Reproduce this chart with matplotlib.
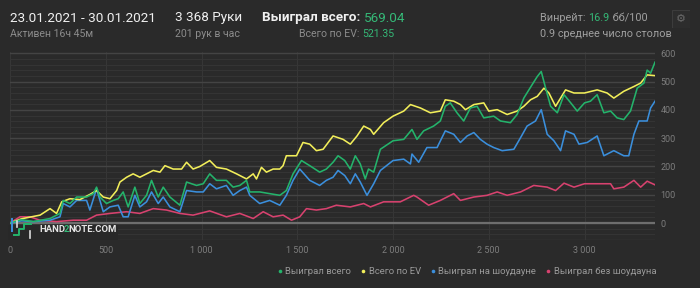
import matplotlib
matplotlib.use("Agg")
import matplotlib.pyplot as plt
from matplotlib.lines import Line2D
from matplotlib.patches import Rectangle
from matplotlib.ticker import MultipleLocator

plt.rcParams['font.family'] = ['Roboto', 'DejaVu Sans']

# ---------------- data ----------------
total_hands = [0, 60, 122, 209, 261, 278, 313, 348, 400, 435, 452, 470, 504, 539, 565, 591, 617, 652,
               678, 713, 739, 774, 800, 835, 887, 922, 974, 1009, 1043, 1078, 1130, 1165, 1200, 1235,
               1252, 1304, 1356, 1409, 1443, 1478, 1522, 1565, 1617, 1652, 1687, 1713, 1748, 1777,
               1803, 1829, 1855, 1872, 1899, 1934, 2000, 2056, 2099, 2125, 2160, 2212, 2247, 2273,
               2299, 2334, 2369, 2404, 2439, 2474, 2526, 2561, 2613, 2648, 2683, 2726, 2753, 2774,
               2797, 2823, 2858, 2893, 2928, 2962, 3000, 3031, 3066, 3101, 3136, 3170, 3205, 3240,
               3275, 3310, 3327, 3345, 3368]
total_won = [0, 12, 5, 16, 34, 80, 69, 92, 92, 104, 127, 92, 69, 80, 86, 110, 57, 127,
             69, 98, 151, 92, 127, 92, 63, 145, 133, 139, 174, 151, 151, 127, 133, 151,
             110, 110, 104, 98, 115, 174, 221, 203, 180, 191, 215, 238, 221, 191,
             238, 209, 156, 191, 180, 261, 291, 296, 331, 296, 326, 343, 361, 413,
             425, 390, 361, 407, 413, 372, 378, 361, 355, 384, 442, 489, 518, 536,
             477, 413, 390, 454, 425, 396, 425, 431, 454, 390, 396, 372, 366, 396,
             477, 495, 541, 530, 569.04]

ev_hands = [0, 60, 157, 209, 243, 270, 313, 365, 417, 452, 487, 522, 557, 574, 609, 643, 678, 713,
            748, 783, 809, 852, 896, 922, 956, 991, 1043, 1078, 1130, 1183, 1235, 1270, 1287, 1313,
            1339, 1374, 1409, 1426, 1443, 1496, 1530, 1565, 1600, 1635, 1687, 1739, 1777, 1812,
            1847, 1882, 1899, 1951, 2000, 2056, 2091, 2143, 2195, 2247, 2273, 2317, 2352, 2378,
            2422, 2474, 2500, 2544, 2596, 2648, 2683, 2718, 2753, 2788, 2814, 2849, 2875, 2901,
            2945, 3000, 3066, 3118, 3153, 3205, 3258, 3293, 3327, 3368]
ev_won = [0, 15, 28, 51, 34, 75, 86, 83, 101, 115, 92, 86, 115, 145, 162, 174, 162, 174,
          186, 180, 203, 191, 191, 215, 191, 200, 221, 197, 191, 174, 156, 174, 156, 197,
          180, 191, 191, 203, 238, 238, 285, 279, 256, 261, 308, 296, 279, 308,
          343, 331, 314, 355, 378, 396, 419, 407, 390, 396, 436, 431, 419, 401,
          419, 425, 396, 401, 384, 396, 413, 436, 448, 477, 460, 413, 442, 471,
          460, 460, 471, 460, 442, 466, 483, 495, 524, 521.35]

sd_hands = [0, 60, 122, 209, 261, 278, 313, 348, 400, 417, 452, 487, 522, 565, 591, 617, 652, 678,
            713, 739, 774, 800, 835, 887, 922, 974, 1009, 1043, 1078, 1130, 1165, 1200, 1235, 1252,
            1304, 1356, 1409, 1443, 1478, 1513, 1565, 1617, 1652, 1687, 1713, 1748, 1777, 1803,
            1829, 1864, 1899, 1934, 2000, 2056, 2091, 2099, 2134, 2177, 2230, 2273, 2317, 2352,
            2387, 2422, 2456, 2491, 2526, 2570, 2631, 2666, 2700, 2744, 2774, 2805, 2840, 2875,
            2901, 2945, 2971, 3014, 3066, 3101, 3153, 3205, 3231, 3258, 3284, 3327, 3345, 3368]
sd_won = [0, 8, 5, 10, 22, 69, 57, 80, 80, 46, 121, 40, 57, 63, 22, 22, 98, 57,
          75, 110, 69, 92, 57, 40, 115, 110, 110, 139, 121, 133, 98, 115, 127, 98,
          69, 80, 63, 98, 151, 191, 151, 133, 151, 162, 186, 168, 139, 174,
          145, 98, 139, 186, 221, 226, 209, 244, 215, 267, 267, 326, 314, 285,
          308, 320, 296, 279, 267, 256, 261, 302, 343, 361, 401, 314, 291, 256,
          326, 314, 279, 285, 308, 238, 256, 238, 238, 314, 361, 361, 407, 431]

nsd_hands = [0, 52, 104, 157, 243, 330, 400, 452, 522, 609, 678, 748, 817, 887, 956, 1043, 1130,
             1200, 1270, 1322, 1374, 1426, 1470, 1513, 1548, 1600, 1652, 1704, 1777, 1847, 1882,
             1951, 2038, 2108, 2125, 2186, 2247, 2317, 2352, 2422, 2491, 2544, 2596, 2666, 2735,
             2805, 2849, 2893, 2945, 3000, 3066, 3136, 3153, 3205, 3258, 3293, 3327, 3368]
nsd_won = [0, 22, 22, 10, 5, 10, 10, 28, 34, 40, 34, 51, 46, 34, 28, 43, 22,
           34, 16, 40, 22, 28, 10, 22, 51, 46, 51, 63, 57, 69, 57,
           75, 75, 98, 92, 63, 80, 104, 80, 92, 98, 110, 98, 110, 133,
           127, 115, 141, 127, 139, 139, 139, 121, 127, 151, 127, 148, 135]

x_ticks = [0, 500, 1000, 1500, 2000, 2500, 3000]
x_tick_labels = ["0", "500", "1 000", "1 500", "2 000", "2 500", "3 000"]
y_ticks = [0, 100, 200, 300, 400, 500, 600]

series_names = ["Выиграл всего", "Всего по EV", "Выиграл на шоудауне", "Выиграл без шоудауна"]
series_colors = ["#24b36b", "#f2ee5a", "#3b8fdc", "#d8426f"]

BG = "#2a2a2a"
GREEN = "#35b877"

# ---------------- figure ----------------
W, H = 700, 288
fig = plt.figure(figsize=(W / 100, H / 100), dpi=100, facecolor=BG)

def fx(px):
    return px / W

def fy(py):
    return 1 - py / H

ax = fig.add_axes([fx(10), fy(240), fx(655) - fx(10), fy(52) - fy(240)])
ax.set_facecolor(BG)
ax.set_xlim(0, 3368)
ax.set_ylim(-60, 605)
for s in ax.spines.values():
    s.set_visible(False)

ax.yaxis.tick_right()
ax.set_yticks(y_ticks)
ax.yaxis.set_minor_locator(MultipleLocator(20))
ax.set_xticks(x_ticks)
ax.set_xticklabels(x_tick_labels)
ax.tick_params(axis='both', which='both', length=0, labelsize=6.5, colors="#7d7d7d")
ax.tick_params(axis='y', pad=4)
ax.tick_params(axis='x', pad=4)
ax.grid(axis='y', which='major', color="#444444", linewidth=1.0)
ax.grid(axis='y', which='minor', color="#353535", linewidth=0.7)
ax.grid(axis='x', which='major', color="#363636", linewidth=0.8)
ax.axhline(0, color="#6e6e6e", linewidth=1.6, zorder=2)
ax.axhline(-60, color="#3a3a3a", linewidth=1.0, zorder=1)

lw = 1.15
ax.plot(nsd_hands, nsd_won, color=series_colors[3], linewidth=lw, zorder=3)
ax.plot(sd_hands, sd_won, color=series_colors[2], linewidth=lw, zorder=4)
ax.plot(ev_hands, ev_won, color=series_colors[1], linewidth=lw, zorder=5)
ax.plot(total_hands, total_won, color=series_colors[0], linewidth=lw, zorder=6)

# logo (box below the zero line, icon overlapping)
logo_ax = fig.add_axes([fx(8), fy(240), fx(118) - fx(8), fy(213) - fy(240)])
logo_ax.set_xlim(8, 118)
logo_ax.set_ylim(240, 213)
logo_ax.axis('off')
logo_ax.patch.set_alpha(0)
logo_ax.add_patch(Rectangle((8, 224.5), 110, 15.5, facecolor="#282828", edgecolor="none"))
logo_ax.plot([12, 12], [219, 231], color="#3b8fdc", linewidth=1.4)
logo_ax.plot([14, 19, 19, 24, 24, 31], [235, 235, 229, 229, 224, 224], color="#24b36b", linewidth=1.4)
logo_ax.plot([17, 17], [221, 227], color="#dddddd", linewidth=1.2)
logo_ax.plot([30, 30], [231, 238], color="#dddddd", linewidth=1.2)

fig.canvas.draw()
r = fig.canvas.get_renderer()

def right_edge(t, trim=0.0):
    return (t.get_window_extent(renderer=r).x1 - trim) / W

logo_fs = 6.8
l1 = fig.text(fx(39), fy(229), "HAND", color="#e6e6e6", fontsize=logo_fs, fontweight='bold',
              va='center', ha='left')
fig.canvas.draw()
l2 = fig.text(right_edge(l1, 1.5), fy(229), "2", color=GREEN, fontsize=logo_fs, fontweight='bold',
              va='center', ha='left')
fig.canvas.draw()
fig.text(right_edge(l2, 1.0), fy(229), "NOTE.COM", color="#e6e6e6", fontsize=logo_fs, fontweight='bold',
         va='center', ha='left')

# header
WHITE = "#f0f0f0"
GRAY = "#8c8c8c"
HFS = 9.7
SFS = 7.6
fig.text(fx(10), fy(18), "23.01.2021 - 30.01.2021", color=WHITE, fontsize=HFS, va='center', ha='left')
fig.text(fx(10), fy(34), "Активен 16ч 45м", color=GRAY, fontsize=SFS, va='center', ha='left')
fig.text(fx(175), fy(18), "3 368 Руки", color=WHITE, fontsize=HFS, va='center', ha='left')
fig.text(fx(175), fy(34), "201 рук в час", color=GRAY, fontsize=SFS, va='center', ha='left')

ta = fig.text(fx(262), fy(18), "Выиграл всего: ", color=WHITE, fontsize=HFS, fontweight='bold',
              va='center', ha='left')
fig.canvas.draw()
fig.text(right_edge(ta), fy(18), "569.04", color=GREEN, fontsize=HFS, va='center', ha='left')

tb = fig.text(fx(394), fy(34), "521.35", color=GREEN, fontsize=SFS, va='center', ha='right')
fig.canvas.draw()
bbb = tb.get_window_extent(renderer=r)
fig.text(bbb.x0 / W, fy(34), "Всего по EV: ", color=GRAY, fontsize=SFS, va='center', ha='right')

tc = fig.text(fx(540), fy(18), "Винрейт: ", color="#a0a0a0", fontsize=7.8, va='center', ha='left')
fig.canvas.draw()
td = fig.text(right_edge(tc), fy(18), "16.9", color=GREEN, fontsize=7.8, va='center', ha='left')
fig.canvas.draw()
fig.text(right_edge(td), fy(18), " бб/100", color="#a0a0a0", fontsize=7.8, va='center', ha='left')
fig.text(fx(540), fy(34), "0.9 среднее число столов", color="#a0a0a0", fontsize=7.8, va='center', ha='left')

# gear box
gear_ax = fig.add_axes([fx(672), fy(28), fx(690) - fx(672), fy(10) - fy(28)])
gear_ax.set_xlim(0, 1)
gear_ax.set_ylim(0, 1)
gear_ax.axis('off')
gear_ax.add_patch(Rectangle((0, 0), 1, 1, facecolor="#2d2d2d", edgecolor="#3c3c3c", linewidth=0.8))
gear_ax.text(0.5, 0.5, "⚙", color="#6a6a6a", fontsize=8, ha='center', va='center',
             family=['DejaVu Sans'])

# legend
handles = [Line2D([], [], linestyle='none', marker='o', markersize=2.6, color=c, markeredgewidth=0)
           for c in series_colors]
leg = fig.legend(handles, series_names, loc='center right', bbox_to_anchor=(fx(656), fy(272)),
                 ncol=4, frameon=False, fontsize=6.8, handletextpad=0.15, columnspacing=0.9,
                 handlelength=0.8, borderaxespad=0, borderpad=0)
for t in leg.get_texts():
    t.set_color("#9a9a9a")

fig.savefig("out.png", dpi=100, facecolor=BG)
